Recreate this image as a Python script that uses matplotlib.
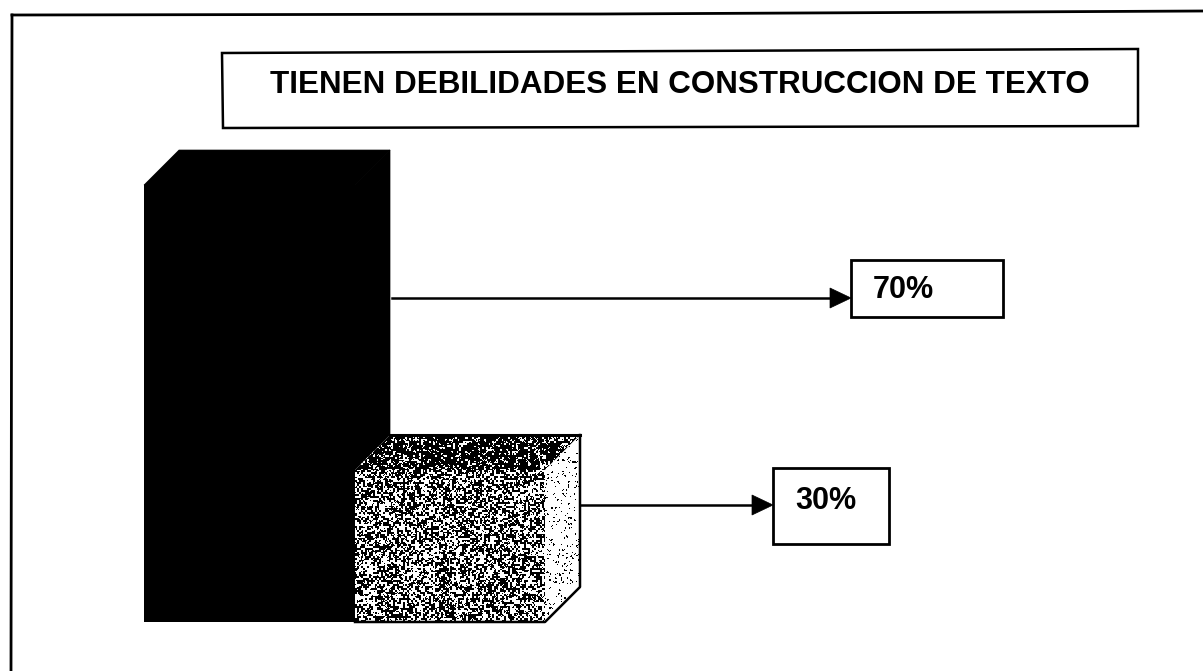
import numpy as np
import matplotlib
matplotlib.use("Agg")
import matplotlib.pyplot as plt
from matplotlib.patches import Polygon, Rectangle

# Data
title = "TIENEN DEBILIDADES EN CONSTRUCCION DE TEXTO"
categories = ["Tienen debilidades", "No tienen debilidades"]
values = [70, 30]
labels = ["70%", "30%"]

W, H = 1203, 671
plt.rcParams["font.family"] = ["Liberation Sans", "DejaVu Sans"]
fig = plt.figure(figsize=(W / 100, H / 100), dpi=100, facecolor="white")

# Value axes: the drawn bars sit on a truncated baseline
PX_PER_UNIT = 7.125
BASE_PX = 622
V0 = 8.67
ax = fig.add_axes([0, 0, 1, 1])
ax.set_xlim(0, W)
ax.set_ylim(V0 - (H - BASE_PX) / PX_PER_UNIT, V0 + BASE_PX / PX_PER_UNIT)
ax.axis("off")

# Pixel overlay for frame and callouts
ov = fig.add_axes([0, 0, 1, 1], zorder=5)
ov.set_xlim(0, W)
ov.set_ylim(H, 0)
ov.axis("off")
ov.patch.set_alpha(0)

DEPTH_X = 35
DEPTH_V = 35 / PX_PER_UNIT
bar_left = [144, 355]
bar_width = [211, 190]


def faces(x0, w, v):
    x1 = x0 + w
    front = [(x0, V0), (x1, V0), (x1, v), (x0, v)]
    top = [(x0, v), (x1, v), (x1 + DEPTH_X, v + DEPTH_V), (x0 + DEPTH_X, v + DEPTH_V)]
    side = [(x1, V0), (x1 + DEPTH_X, V0 + DEPTH_V), (x1 + DEPTH_X, v + DEPTH_V), (x1, v)]
    return front, top, side


# Scan-grain texture for the second bar (appearance only, not data)
rng = np.random.default_rng(11)


def grain(poly, dark_share, z):
    xs = [p[0] for p in poly]
    vs = [p[1] for p in poly]
    nx = int(max(xs) - min(xs)) + 1
    ny = int((max(vs) - min(vs)) * PX_PER_UNIT) + 1
    noise = rng.random((ny // 2 + 2, nx // 2 + 2))
    noise = np.kron(noise, np.ones((2, 2)))[:ny, :nx]
    noise = 0.75 * noise + 0.25 * rng.random((ny, nx))
    level = np.quantile(noise, dark_share)
    img = (noise > level).astype(float)
    im = ax.imshow(img, cmap="gray", vmin=0, vmax=1, aspect="auto", interpolation="nearest",
                   extent=(min(xs), max(xs), min(vs), max(vs)), zorder=z)
    clip = Polygon(poly, closed=True, transform=ax.transData, fill=False, edgecolor="none")
    ax.add_patch(clip)
    im.set_clip_path(clip)


# First bar: solid black
front, top, side = faces(bar_left[0], bar_width[0], values[0])
ax.bar(bar_left[0], values[0] - V0, width=bar_width[0], bottom=V0, align="edge", color="black", zorder=2)
for poly in (top, side):
    ax.add_patch(Polygon(poly, closed=True, facecolor="black", edgecolor="black", lw=0.5, zorder=2))

# Second bar: speckled
front, top, side = faces(bar_left[1], bar_width[1], values[1])
for poly in (front, top, side):
    ax.add_patch(Polygon(poly, closed=True, facecolor="white", edgecolor="none", zorder=3))
grain(front, 0.52, 4)
grain(top, 0.78, 4)
grain(side, 0.07, 4)
x1 = bar_left[1] + bar_width[1]
ax.plot([bar_left[1], x1, x1 + DEPTH_X, x1 + DEPTH_X],
        [V0, V0, V0 + DEPTH_V, values[1] + DEPTH_V], color="black", lw=1.8, zorder=5)
ax.plot([bar_left[1] + DEPTH_X, x1 + DEPTH_X], [values[1] + DEPTH_V] * 2, color="black", lw=2.2, zorder=5)
ax.set_xlim(0, W)
ax.set_ylim(V0 - (H - BASE_PX) / PX_PER_UNIT, V0 + BASE_PX / PX_PER_UNIT)

# Outer frame: only left and top edges are visible
ov.plot([11, 12], [671, 15], color="black", lw=2.0)
ov.plot([12, 600, 1203], [15, 14, 11], color="black", lw=2.0)

# Title box
ov.add_patch(Polygon([(222, 53), (1138, 49), (1138, 126), (223, 128)], closed=True,
                     facecolor="white", edgecolor="black", lw=1.8))
ov.text(680, 85, title, ha="center", va="center", fontsize=22.6, color="black", fontweight="bold")

# Callouts
boxes = [(851, 260, 152, 57), (773, 468, 116, 76)]
text_xy = [(873, 290), (795, 501)]
arrow_y = [298, 505]
arrow_from = [392, 581]
for box, txy, ay, ax0, lab in zip(boxes, text_xy, arrow_y, arrow_from, labels):
    ov.add_patch(Rectangle(box[:2], box[2], box[3], facecolor="white", edgecolor="black", lw=2.0))
    ov.text(txy[0], txy[1], lab, ha="left", va="center", fontsize=22, color="black", fontweight="bold")
    ov.plot([ax0, box[0] - 20], [ay, ay], color="black", lw=1.8)
    ov.add_patch(Polygon([(box[0] - 21, ay - 10), (box[0], ay), (box[0] - 21, ay + 10)],
                         closed=True, facecolor="black", edgecolor="black", lw=0.5))

fig.savefig("out.png", dpi=100, facecolor="white")
